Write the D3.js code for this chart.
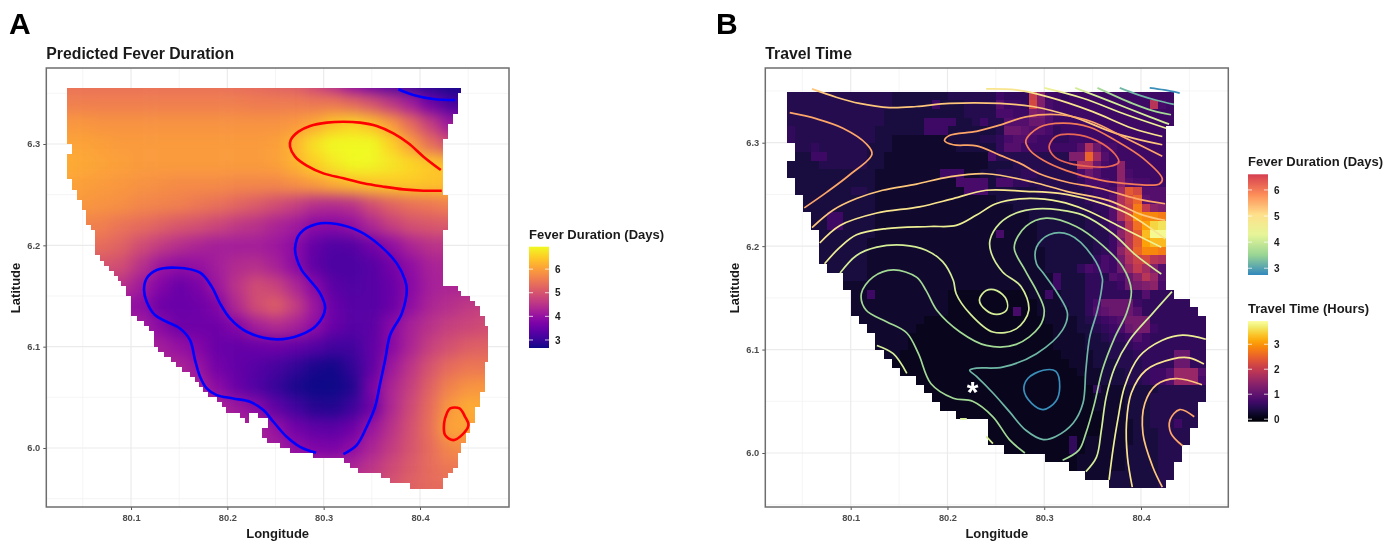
<!DOCTYPE html>
<html>
<head>
<meta charset="utf-8">
<style>
  html, body { margin: 0; padding: 0; background: #fff; }
  svg { display: block; filter: blur(0.45px); }
  text { font-family: "Liberation Sans", Arial, sans-serif; }
  .tick text { font-weight: bold; }
</style>
</head>
<body>
<div id="chart"></div>
<script src="https://d3js.org/d3.v7.min.js"></script>
<script>
// ---------- panel A: fever raster, estimated on a 0.02 degree lattice ----------
var feverLons = [80.03,80.05,80.07,80.09,80.11,80.13,80.15,80.17,80.19,80.21,80.23,80.25,80.27,80.29,80.31,80.33,80.35,80.37,80.39,80.41,80.43,80.45,80.47];
var feverLats = [6.36,6.34,6.32,6.30,6.28,6.26,6.24,6.22,6.20,6.18,6.16,6.14,6.12,6.10,6.08,6.06,6.04,6.02,6.00,5.98,5.96];
var feverDays = [
  [5.4,5.4,5.4,5.4,5.4,5.4,5.4,5.4,5.4,5.35,5.3,5.2,5.1,4.8,4.4,3.9,3.5,3.2,3.0,2.8,2.7,2.7,2.7],
  [5.6,5.6,5.6,5.6,5.6,5.6,5.6,5.6,5.6,5.6,5.55,5.55,5.55,5.5,5.5,5.3,5.0,4.6,4.2,3.6,3.2,3.0,3.0],
  [5.9,5.9,5.85,5.85,5.85,5.85,5.85,5.85,5.85,5.85,5.85,5.85,5.9,6.1,6.4,6.55,6.35,5.95,5.35,4.7,4.1,4,4],
  [6.05,6.05,6,5.95,5.95,5.95,5.95,5.95,5.95,5.95,5.95,6,6.25,6.7,7,7.15,6.95,6.55,6,5.4,4.9,4.9,4.9],
  [6.15,6.1,6.05,6,5.95,5.95,5.95,5.95,5.95,5.95,5.95,6,6.2,6.5,6.75,6.95,6.9,6.75,6.6,6.45,6.35,6.35,6.35],
  [6.05,6,5.95,5.9,5.85,5.8,5.75,5.75,5.75,5.7,5.7,5.7,5.8,5.95,6.15,6.3,6.4,6.45,6.45,6.4,6.35,6.35,6.35],
  [5.9,5.9,5.85,5.8,5.7,5.65,5.6,5.5,5.4,5.25,5.1,4.9,4.7,4.45,4.4,4.5,4.9,5.2,5.4,5.5,5.6,5.6,5.6],
  [5.7,5.65,5.6,5.45,5.35,5.2,5.05,4.95,4.8,4.6,4.5,4.3,4.15,3.9,3.85,4,4.35,4.7,4.95,5.05,5.1,5.1,5.1],
  [5.4,5.4,5.35,5.2,4.9,4.65,4.45,4.3,4.2,4.2,4.2,4.1,3.9,3.45,3.25,3.3,3.6,3.95,4.3,4.5,4.55,4.55,4.55],
  [5,5,5,4.9,4.5,4.1,3.95,4,4.2,4.4,4.45,4.25,3.9,3.4,3.2,3.2,3.3,3.6,3.95,4.25,4.3,4.3,4.3],
  [4.5,4.5,4.5,4.5,4.15,3.8,3.5,3.7,4.1,4.55,4.9,4.75,4.35,3.85,3.35,3.25,3.3,3.5,3.85,4.2,4.3,4.3,4.3],
  [4,4,4,4,3.95,3.55,3.5,3.55,3.75,4.4,4.9,5.15,4.7,4.1,3.5,3.3,3.3,3.5,3.95,4.3,4.45,4.6,4.7],
  [4.2,4.2,4.2,4.2,4.2,3.9,3.55,3.55,3.55,3.8,4.2,4.4,4.25,3.95,3.5,3.3,3.35,3.85,4.25,4.5,4.7,4.8,4.9],
  [4.2,4.2,4.2,4.2,4.2,4.2,4,3.8,3.5,3.45,3.5,3.55,3.45,3.3,3.1,3.1,3.4,3.85,4.3,4.7,4.95,5.15,5.2],
  [4.3,4.3,4.3,4.3,4.3,4.3,4.3,4.05,3.6,3.45,3.3,3.15,2.95,2.75,2.7,2.95,3.4,4.1,4.55,5,5.35,5.5,5.5],
  [4.3,4.3,4.3,4.3,4.3,4.3,4.3,4.3,3.9,3.5,3.25,3,2.75,2.55,2.5,2.8,3.7,4.3,4.7,5.2,5.65,5.85,5.9],
  [4.3,4.3,4.3,4.3,4.3,4.3,4.3,4.3,4.3,4.1,3.9,3.4,3.1,2.85,2.8,3.05,3.55,4.35,4.85,5.35,5.9,6.15,6.1],
  [4.3,4.3,4.3,4.3,4.3,4.3,4.3,4.3,4.3,4.3,4.3,4,3.6,3.4,3.35,3.55,4.05,4.5,4.95,5.4,6.05,6.05,6],
  [4.2,4.2,4.2,4.2,4.2,4.2,4.2,4.2,4.2,4.2,4.2,4.2,3.95,3.75,3.7,3.95,4.3,4.65,5,5.35,5.7,5.8,5.8],
  [4.3,4.3,4.3,4.3,4.3,4.3,4.3,4.3,4.3,4.3,4.3,4.3,4.3,4.3,4.3,4.3,4.55,4.85,5.1,5.35,5.5,5.5,5.5],
  [4.8,4.8,4.8,4.8,4.8,4.8,4.8,4.8,4.8,4.8,4.8,4.8,4.8,4.8,4.8,4.8,4.8,5,5.2,5.3,5.35,5.35,5.35]
];

// land mask of panel A: one row every 0.005 degree from 6.355 down
var maskATop = 6.355, maskAStep = 0.005;
var maskALeft = [
  80.034,80.034,80.034,80.034,80.034,80.034,80.034,80.034,80.034,80.034,80.034,80.039,80.039,80.034,80.034,80.034,80.034,80.034,
  80.039,80.039,80.044,80.044,80.049,80.049,80.053,80.053,80.053,80.058,80.063,80.063,80.063,80.063,80.063,80.068,80.072,80.077,
  80.082,80.086,80.090,80.095,80.095,80.100,80.100,80.100,80.100,80.106,80.113,80.119,80.124,80.124,80.124,80.128,80.134,80.142,
  80.147,80.153,80.161,80.166,80.171,80.175,80.180,80.189,80.194,80.199,80.232,80.242,80.242,80.236,80.236,80.241,80.255,80.265,
  80.289,80.321,80.327,80.336,80.359,80.369,80.390
];
var maskARight = [
  80.443,80.439,80.439,80.439,80.439,80.434,80.434,80.429,80.429,80.429,80.424,80.424,80.424,80.424,80.424,80.424,80.424,80.424,
  80.424,80.424,80.424,80.429,80.429,80.429,80.429,80.429,80.429,80.429,80.424,80.424,80.424,80.424,80.424,80.424,80.424,80.424,
  80.424,80.424,80.424,80.439,80.443,80.452,80.457,80.462,80.462,80.467,80.467,80.471,80.471,80.471,80.471,80.471,80.471,80.471,
  80.467,80.467,80.467,80.467,80.467,80.467,80.462,80.462,80.462,80.457,80.457,80.457,80.452,80.452,80.448,80.448,80.443,80.443,
  80.439,80.439,80.439,80.434,80.429,80.424,80.424
];
// small bits of land split off by the lagoon: [row, lonLeft, lonRight]
var maskAIslets = [[64,80.213,80.222],[65,80.218,80.2225]];

var contourRedTop = [[80.4216,6.2743],[80.4036,6.2875],[80.388,6.3007],[80.3724,6.3105],[80.3551,6.3178],[80.3378,6.3211],[80.3205,6.322],[80.3032,6.3211],[80.2859,6.3178],[80.2738,6.3122],[80.2658,6.3039],[80.2651,6.2974],[80.2703,6.2875],[80.2824,6.2786],[80.2997,6.271],[80.3205,6.2661],[80.3413,6.2612],[80.362,6.2579],[80.3828,6.2552],[80.4036,6.2539],[80.4226,6.2539]];
var contourRedSmall = [[80.4313,6.0391],[80.441,6.0391],[80.4468,6.0308],[80.4503,6.0226],[80.4434,6.0127],[80.4347,6.0078],[80.4261,6.0127],[80.425,6.0243],[80.4278,6.0341]];
var contourBlueTop = [[80.3776,6.354],[80.3932,6.3484],[80.414,6.3444],[80.4365,6.3434]];
var contourBlueMain = [[80.2921,5.9953],[80.2755,6.0012],[80.2616,6.0111],[80.2478,6.0259],[80.2374,6.0374],[80.2236,6.0456],[80.2063,6.0489],[80.189,6.0522],[80.1786,6.0588],[80.1717,6.0703],[80.1665,6.0868],[80.1613,6.1065],[80.1509,6.118],[80.137,6.1246],[80.1249,6.1312],[80.1163,6.1444],[80.1135,6.1559],[80.1163,6.1674],[80.1267,6.1756],[80.1474,6.1779],[80.1717,6.173],[80.1838,6.1592],[80.1924,6.1427],[80.2028,6.1279],[80.2201,6.1147],[80.2513,6.1072],[80.2755,6.1115],[80.2928,6.1213],[80.3015,6.1378],[80.2963,6.1526],[80.2841,6.1674],[80.2772,6.1756],[80.272,6.1871],[80.2703,6.197],[80.2755,6.2118],[80.2928,6.221],[80.3136,6.221],[80.3378,6.2135],[80.3586,6.1997],[80.3759,6.1822],[80.3845,6.1657],[80.3863,6.1559],[80.3811,6.1328],[80.369,6.1115],[80.3638,6.0868],[80.3586,6.0637],[80.3534,6.0407],[80.3447,6.021],[80.3343,6.0029],[80.3205,5.994]];

// ---------- panel B: travel time raster, one char per 30 arc second cell (base 36, x 0.11 h) ----------
var travelLeftLon = 80.0339, travelTopLat = 6.3493, travelStep = 1 / 120;
var travelCells = [
  "4444444444 4443333333 4444446555 jc66566666 6666666666 66",
  "4444444444 4443333363 3344448665 kc76666666 66666h7666 66",
  "4444444444 4433333333 3344447766 cb86666666 6666666666 66",
  "4444444444 4433333666 6334644888 aa86666666 6666666666 66",
  "5444444444 4333333666 3333334aa9 8875666666 6666666666 66",
  "5444444444 4332222222 3333445788 7665566666 6666666666 66",
  "4445444444 3332222222 2333335886 6666668ga7 7666666666 66",
  "3336644444 3322222222 2222274444 44444ccnf8 6666666666 66",
  "3333444444 3322222222 2222233344 444444hha7 6d66666666 66",
  "3333333333 3222222226 6622334445 5444447a86 6d76666666 66",
  "3333333333 3222222222 2777737755 4444445777 6d87766666 66",
  "3333333344 3222222222 2277733333 3444444566 7fmk888666 66",
  "3333333333 3222222222 2222223333 3333444556 8gkn988666 66",
  "3333333333 3222222222 2222222233 3333334455 8gjpidc666 66",
  "3333366333 3222222222 2222222222 3333333445 8gkrqqp666 66",
  "3333366333 3222222222 2222222222 2333333445 7aioswx666 66",
  "3333333333 3222222222 2222227222 2333333344 6dhmuzz666 66",
  "3333333333 2222222222 2222222222 2333333344 6bhmsuu666 66",
  "3333333333 2222222222 2222222222 2233333345 6dhnqqp666 66",
  "3333333333 2222222222 2222222222 2233333357 6bgjkhg666 66",
  "3333333333 2222222222 2222222222 2233335767 6aeifc8666 66",
  "3333333333 2222222222 2222222222 2226333554 87adhe8666 66",
  "2222222222 2222222222 2222222222 2226333555 56abcd7666 66",
  "2222222222 6222222222 1111111111 2262333555 5555855555 55",
  "2222222222 2222222222 1111111111 122233357a aaa6555555 55",
  "2222222222 2222222222 1111111171 1222233589 aaa8555555 55",
  "2222222222 2222222111 1111111111 1122223456 78bbb55555 55",
  "2222222222 2222221111 1111111111 1112223345 67abb65555 55",
  "2222222222 2222211111 1111111111 1112222334 5568655555 55",
  "2222222222 2222211111 1111111111 1112222333 4456655555 55",
  "2222222222 2222111111 1111111111 1111222233 44455555aa 55",
  "1111111111 1111111111 1111111111 1111122233 34445555aa 55",
  "1111111111 1111111111 1111111111 1111112223 3344566 8ee e8",
  "1111111111 1111111111 1111111111 1111111223 3344566 8ee e7",
  "1111111111 1111111111 1111111111 1111111152 2233334444 44",
  "1111111111 1111111111 1111111111 1111111122 2233344444 44",
  "1111111111 1111111111 1111111111 1111111122 2233344444 44",
  "1111111111 1111111111 1111111111 1111111112 2233344444 44",
  "1111111111 1111111111 1111111111 1111111112 2223344464 44",
  "1111111111 1111111111 1111111111 1111111112 2223334444 44",
  "1111111111 1111111111 1111111111 1111151222 2223334444 44",
  "1111111111 1111111111 1111111111 1111151222 2233334444 44",
  "1111111111 1111111111 1111111111 1111112222 2233334444 44",
  "1111111111 1111111111 1111111111 1111112222 2233334444 44",
  "1111111111 1111111111 1111111111 1111122222 3333334444 44",
  "1111111111 1111111111 1111111111 1111122222 3333334444 44"
];
var travelLeft = [80.0339,80.0339,80.0339,80.0339,80.0339,80.0339,80.0425,80.0425,80.0339,80.0339,80.0425,80.0425,80.0511,80.0511,80.0597,80.0597,80.0676,80.0676,80.0676,80.0676,80.0759,80.0924,80.0924,80.101,80.101,80.101,80.1096,80.1172,80.1258,80.1258,80.1337,80.1424,80.151,80.1675,80.1758,80.1844,80.1923,80.2095,80.2422,80.2422,80.2422,80.2594,80.3008,80.3266,80.3431,80.3679];
var travelRight = [80.4344,80.4344,80.4344,80.4344,80.4261,80.4261,80.4261,80.4261,80.4261,80.4261,80.4261,80.4261,80.4261,80.4261,80.4261,80.4261,80.4261,80.4261,80.4261,80.4261,80.4261,80.4261,80.4261,80.434,80.4506,80.4592,80.4674,80.4674,80.4674,80.4674,80.4674,80.4674,80.4674,80.4674,80.4674,80.4674,80.4592,80.4592,80.4592,80.4506,80.4506,80.4423,80.4423,80.434,80.434,80.4258];

// contour lines of panel B, each with the fever level that colours it
var lineA = [[80.409,6.353],[80.424,6.351],[80.440,6.348]];
var lineB = [[80.378,6.353],[80.398,6.346],[80.416,6.341],[80.434,6.337]];
var lineC = [[80.355,6.353],[80.391,6.338],[80.412,6.331],[80.431,6.327]];
var lineD = [[80.332,6.353],[80.371,6.339],[80.409,6.325],[80.429,6.318]];
var lineE = [[80.300,6.353],[80.340,6.343],[80.385,6.327],[80.426,6.314]];
var lineF = [[80.240,6.352],[80.271,6.351],[80.305,6.344],[80.350,6.330],[80.391,6.314],[80.422,6.306]];
var lineG = [[80.060,6.352],[80.085,6.344],[80.109,6.338],[80.140,6.334],[80.168,6.335],[80.202,6.338],[80.254,6.338],[80.288,6.335],[80.330,6.325],[80.374,6.309],[80.422,6.298]];
var lineTip = [[80.422,6.287],[80.385,6.304],[80.350,6.320],[80.316,6.327],[80.281,6.325],[80.254,6.317],[80.230,6.311],[80.202,6.307],[80.197,6.302],[80.206,6.298],[80.230,6.297],[80.254,6.288],[80.275,6.280],[80.295,6.270],[80.323,6.262],[80.357,6.256],[80.395,6.246],[80.425,6.241]];
var lineLoop = [[80.281,6.302],[80.295,6.315],[80.319,6.319],[80.347,6.315],[80.374,6.302],[80.402,6.285],[80.422,6.265],[80.419,6.260],[80.391,6.260],[80.357,6.264],[80.323,6.273],[80.299,6.283],[80.285,6.293]];
var lineInner = [[80.305,6.296],[80.312,6.306],[80.331,6.308],[80.354,6.302],[80.373,6.289],[80.377,6.281],[80.367,6.277],[80.347,6.277],[80.326,6.280],[80.311,6.286]];
var lineWest = [[80.052,6.237],[80.075,6.252],[80.099,6.269],[80.122,6.289],[80.116,6.299],[80.092,6.314],[80.065,6.323],[80.037,6.329]];
var lineM2 = [[80.060,6.218],[80.082,6.235],[80.106,6.246],[80.133,6.254],[80.168,6.260],[80.202,6.267],[80.240,6.270],[80.288,6.262],[80.323,6.253],[80.367,6.244],[80.402,6.230],[80.425,6.225]];
var lineM3 = [[80.068,6.203],[80.089,6.220],[80.127,6.232],[80.171,6.238],[80.206,6.246],[80.240,6.254],[80.281,6.253],[80.316,6.251],[80.350,6.244],[80.385,6.232],[80.425,6.207]];
var lineM4 = [[80.073,6.183],[80.089,6.199],[80.106,6.211],[80.137,6.217],[80.182,6.219],[80.209,6.220],[80.230,6.230],[80.250,6.241],[80.281,6.246],[80.316,6.243],[80.343,6.235],[80.378,6.219],[80.421,6.199]];
var lineM5 = [[80.089,6.174],[80.106,6.191],[80.127,6.199],[80.154,6.201],[80.178,6.196],[80.195,6.185],[80.206,6.167],[80.209,6.154],[80.223,6.135],[80.247,6.117],[80.271,6.120],[80.284,6.138],[80.276,6.161],[80.257,6.175],[80.245,6.194],[80.244,6.206],[80.254,6.222],[80.271,6.232],[80.292,6.236],[80.316,6.235],[80.340,6.230],[80.371,6.212],[80.395,6.191],[80.421,6.173]];
var lineM6 = [[80.280,6.000],[80.264,6.013],[80.247,6.035],[80.226,6.050],[80.206,6.053],[80.183,6.067],[80.170,6.096],[80.158,6.116],[80.137,6.127],[80.116,6.138],[80.111,6.154],[80.123,6.170],[80.144,6.177],[80.168,6.170],[80.178,6.157],[80.189,6.138],[80.213,6.117],[80.240,6.104],[80.271,6.105],[80.295,6.122],[80.300,6.138],[80.292,6.157],[80.280,6.177],[80.269,6.199],[80.281,6.219],[80.302,6.227],[80.333,6.219],[80.360,6.201],[80.381,6.180],[80.390,6.157],[80.385,6.135],[80.373,6.112],[80.360,6.080],[80.352,6.048],[80.343,6.019],[80.336,6.003],[80.319,5.993]];
var lineM7 = [[80.223,6.080],[80.230,6.082],[80.257,6.083],[80.292,6.096],[80.319,6.119],[80.324,6.135],[80.314,6.154],[80.299,6.174],[80.292,6.183],[80.292,6.199],[80.305,6.211],[80.326,6.211],[80.350,6.190],[80.360,6.169],[80.360,6.164],[80.355,6.138],[80.347,6.112],[80.343,6.080],[80.340,6.048],[80.330,6.029],[80.312,6.016],[80.299,6.013],[80.281,6.022],[80.264,6.040],[80.247,6.058],[80.230,6.074]];
var lineM8 = [[80.299,6.080],[80.312,6.079],[80.316,6.064],[80.312,6.050],[80.299,6.042],[80.287,6.048],[80.279,6.061],[80.283,6.072]];
var lineM9 = [[80.233,6.148],[80.240,6.157],[80.251,6.157],[80.261,6.148],[80.261,6.138],[80.251,6.134],[80.240,6.138]];
var lineN2 = [[80.343,5.982],[80.354,5.996],[80.359,6.022],[80.364,6.054],[80.373,6.083],[80.388,6.109],[80.412,6.135],[80.432,6.156]];
var lineN3 = [[80.367,5.974],[80.371,6.003],[80.376,6.032],[80.383,6.064],[80.398,6.093],[80.422,6.109],[80.443,6.114],[80.467,6.110]];
var lineN4 = [[80.391,5.967],[80.386,5.996],[80.385,6.029],[80.390,6.058],[80.405,6.080],[80.433,6.091],[80.450,6.092],[80.465,6.086]];
var lineN5 = [[80.422,5.967],[80.412,5.987],[80.402,6.019],[80.404,6.048],[80.416,6.066],[80.436,6.072],[80.463,6.066]];
var lineN6 = [[80.443,6.007],[80.431,6.019],[80.430,6.032],[80.440,6.042],[80.455,6.035]];
var lineCoast1 = [[80.127,6.104],[80.144,6.096],[80.158,6.077]];
var lineCoast2 = [[80.213,6.033],[80.220,6.033]];
var lineCoast3 = [[80.240,6.016],[80.247,6.009]];

var openLines = [
  [lineA,2.8],[lineB,3.2],[lineC,3.6],[lineD,4.1],[lineE,4.5],[lineF,4.9],[lineG,5.3],[lineTip,5.6],[lineWest,5.6],
  [lineM2,5.3],[lineM3,4.9],[lineM4,4.5],[lineM5,4.1],[lineM6,3.6],
  [lineN2,4.1],[lineN3,4.5],[lineN4,4.9],[lineN5,5.3],[lineN6,5.6],
  [lineCoast1,4.1],[lineCoast2,4.1],[lineCoast3,4.1]
];
var closedLines = [[lineLoop,6.0],[lineInner,6.2],[lineM7,3.2],[lineM8,2.8],[lineM9,4.1]];

var gridLons = [80.05,80.15,80.25,80.35,80.45];
var gridLats = [5.95,6.05,6.15,6.25,6.35];
var lonTicks = [80.1,80.2,80.3,80.4];
var latTicks = [6.0,6.1,6.2,6.3];

var spectralStops = ["#3288bd","#99d594","#e6f598","#fee08b","#fc8d59","#d53e4f"];
var feverLegendTicks = [3,4,5,6];
var travelLegendTicks = [0,1,2,3];

// ---------- scales ----------
var width = 1399, height = 542;
var svg = d3.select("#chart").append("svg").attr("width", width).attr("height", height);
var defs = svg.append("defs");

var plasma = d3.scaleSequential(d3.interpolatePlasma).domain([2.66, 6.95]);
var inferno = d3.scaleSequential(d3.interpolateInferno).domain([-0.1, 3.93]);
var spectral = d3.scaleLinear()
  .domain(d3.range(spectralStops.length).map(function(i) { return 2.74 + i * (6.6 - 2.74) / 5; }))
  .range(spectralStops);

var xA = d3.scaleLinear().domain([80.1, 80.4]).range([131, 420]);
var yA = d3.scaleLinear().domain([6.0, 6.3]).range([448, 144]);
var xB = d3.scaleLinear().domain([80.1, 80.4]).range([850.7, 1141]);
var yB = d3.scaleLinear().domain([6.0, 6.3]).range([453, 142.7]);

var frameA = {left: 46.3, right: 509, top: 68, bottom: 507};
var frameB = {left: 765.3, right: 1228.3, top: 68, bottom: 507};

function drawFrame(frame, x, y, title, letter, letterX) {
  var g = svg.append("g");
  g.append("rect").attr("x", frame.left).attr("y", frame.top)
    .attr("width", frame.right - frame.left).attr("height", frame.bottom - frame.top)
    .attr("fill", "#fff");

  g.selectAll(".minorx").data(gridLons).enter().append("line")
    .attr("x1", x).attr("x2", x).attr("y1", frame.top).attr("y2", frame.bottom)
    .attr("stroke", "#f3f3f3").attr("stroke-width", 0.8);
  g.selectAll(".minory").data(gridLats).enter().append("line")
    .attr("y1", y).attr("y2", y).attr("x1", frame.left).attr("x2", frame.right)
    .attr("stroke", "#f3f3f3").attr("stroke-width", 0.8);
  g.selectAll(".majorx").data(lonTicks).enter().append("line")
    .attr("x1", x).attr("x2", x).attr("y1", frame.top).attr("y2", frame.bottom)
    .attr("stroke", "#ebebeb").attr("stroke-width", 1.2);
  g.selectAll(".majory").data(latTicks).enter().append("line")
    .attr("y1", y).attr("y2", y).attr("x1", frame.left).attr("x2", frame.right)
    .attr("stroke", "#ebebeb").attr("stroke-width", 1.2);

  svg.append("text").attr("x", frame.left).attr("y", 59)
    .attr("font-size", 15.8).attr("font-weight", "bold").attr("fill", "#1a1a1a").text(title);
  svg.append("text").attr("x", letterX).attr("y", 34)
    .attr("font-size", 30).attr("font-weight", "bold").attr("fill", "#000").text(letter);
  svg.append("text").attr("x", (frame.left + frame.right) / 2).attr("y", 538)
    .attr("text-anchor", "middle").attr("font-size", 13).attr("font-weight", "bold")
    .attr("fill", "#1a1a1a").text("Longitude");
  svg.append("text").attr("transform", "translate(" + (frame.left - 26) + ",288) rotate(-90)")
    .attr("text-anchor", "middle").attr("font-size", 13).attr("font-weight", "bold")
    .attr("fill", "#1a1a1a").text("Latitude");
}

function drawAxes(frame, x, y) {
  var ax = svg.append("g").attr("transform", "translate(0," + frame.bottom + ")")
    .call(d3.axisBottom(x).tickValues(lonTicks).tickFormat(d3.format(".1f")).tickSize(3).tickPadding(4));
  var ay = svg.append("g").attr("transform", "translate(" + frame.left + ",0)")
    .call(d3.axisLeft(y).tickValues(latTicks).tickFormat(d3.format(".1f")).tickSize(3).tickPadding(3));
  [ax, ay].forEach(function(a) {
    a.select(".domain").remove();
    a.selectAll("line").attr("stroke", "#555");
    a.selectAll("text").attr("font-size", 9.3).attr("fill", "#4d4d4d")
      .style("font-family", "'Liberation Sans', Arial, sans-serif");
  });
  svg.append("rect").attr("x", frame.left).attr("y", frame.top)
    .attr("width", frame.right - frame.left).attr("height", frame.bottom - frame.top)
    .attr("fill", "none").attr("stroke", "#6e6e6e").attr("stroke-width", 1.5);
}

function drawLegend(lx, ty, by, scale, lo, hi, ticks, title, titleY) {
  var id = "grad" + Math.round(ty);
  var grad = defs.append("linearGradient").attr("id", id)
    .attr("x1", 0).attr("x2", 0).attr("y1", 1).attr("y2", 0);
  d3.range(0, 1.001, 0.05).forEach(function(t) {
    grad.append("stop").attr("offset", t).attr("stop-color", scale(lo + t * (hi - lo)));
  });
  var ly = d3.scaleLinear().domain([lo, hi]).range([by, ty]);
  svg.append("rect").attr("x", lx).attr("y", ty).attr("width", 20).attr("height", by - ty)
    .attr("fill", "url(#" + id + ")");
  svg.selectAll(".lt" + id).data(ticks).enter().append("path")
    .attr("d", function(d) {
      return "M" + lx + "," + ly(d) + "h4M" + (lx + 16) + "," + ly(d) + "h4";
    })
    .attr("stroke", "#fff").attr("stroke-opacity", 0.75).attr("fill", "none");
  svg.selectAll(".ll" + id).data(ticks).enter().append("text")
    .attr("x", lx + 26).attr("y", function(d) { return ly(d) + 3.6; })
    .attr("font-size", 10).attr("font-weight", "bold").attr("fill", "#1a1a1a").text(function(d) { return d; });
  svg.append("text").attr("x", lx).attr("y", titleY)
    .attr("font-size", 13).attr("font-weight", "bold").attr("fill", "#1a1a1a").text(title);
}

// ---------- panel A ----------
drawFrame(frameA, xA, yA, "Predicted Fever Duration", "A", 9);

// rows snap to whole pixels, otherwise the clip shows hairlines between them
function clipRow(clip, top, left, right) {
  var y0 = Math.round(yA(top)), y1 = Math.round(yA(top - maskAStep));
  clip.append("rect").attr("x", Math.round(xA(left))).attr("y", y0)
    .attr("width", Math.round(xA(right)) - Math.round(xA(left))).attr("height", y1 - y0);
}
var clipA = defs.append("clipPath").attr("id", "maskA");
maskALeft.forEach(function(left, i) {
  clipRow(clipA, maskATop - i * maskAStep, left, maskARight[i]);
});
maskAIslets.forEach(function(d) {
  clipRow(clipA, maskATop - d[0] * maskAStep, d[1], d[2]);
});

defs.append("filter").attr("id", "smooth").attr("filterUnits", "userSpaceOnUse")
  .attr("x", 0).attr("y", 0).attr("width", 700).attr("height", 542)
  .attr("color-interpolation-filters", "sRGB")
  .append("feGaussianBlur").attr("stdDeviation", 7);

var rasterA = svg.append("g").attr("clip-path", "url(#maskA)").append("g").attr("filter", "url(#smooth)");
feverDays.forEach(function(row, r) {
  var lat = feverLats[r];
  row.forEach(function(v, c) {
    var lon = feverLons[c];
    // the outer lattice cells run on so the blur has no pale rim
    var x0 = xA(lon - 0.01) - (c === 0 ? 40 : 0), x1 = xA(lon + 0.01) + (c === row.length - 1 ? 40 : 0);
    var y0 = yA(lat + 0.01) - (r === 0 ? 40 : 0), y1 = yA(lat - 0.01) + (r === feverDays.length - 1 ? 40 : 0);
    rasterA.append("rect").attr("x", x0).attr("y", y0)
      .attr("width", x1 - x0 + 0.5).attr("height", y1 - y0 + 0.5).attr("fill", plasma(v));
  });
});

var lineAPath = d3.line().x(function(d) { return xA(d[0]); }).y(function(d) { return yA(d[1]); })
  .curve(d3.curveCatmullRom.alpha(0.5));
var closedAPath = d3.line().x(function(d) { return xA(d[0]); }).y(function(d) { return yA(d[1]); })
  .curve(d3.curveCatmullRomClosed.alpha(0.5));
[[contourRedTop, "#f00", lineAPath], [contourRedSmall, "#f00", closedAPath],
 [contourBlueTop, "#00f", lineAPath], [contourBlueMain, "#00f", lineAPath]].forEach(function(d) {
  svg.append("path").attr("d", d[2](d[0])).attr("fill", "none")
    .attr("stroke", d[1]).attr("stroke-width", 2.6).attr("stroke-linejoin", "round");
});
drawAxes(frameA, xA, yA);
drawLegend(529, 246.7, 348, plasma, 2.66, 6.95, feverLegendTicks, "Fever Duration (Days)", 239);

// ---------- panel B ----------
drawFrame(frameB, xB, yB, "Travel Time", "B", 716);

var rasterB = svg.append("g").attr("shape-rendering", "crispEdges");
travelCells.forEach(function(row, r) {
  var chars = row.replace(/ /g, "");
  var top = travelTopLat - r * travelStep;
  var left = travelLeft[r], right = travelRight[r];
  d3.range(chars.length).forEach(function(c) {
    var lon = travelLeftLon + c * travelStep;
    if (lon + travelStep / 2 < left || lon + travelStep / 2 > right) return;
    var x0 = Math.round(xB(lon)), x1 = Math.round(xB(lon + travelStep));
    var y0 = Math.round(yB(top)), y1 = Math.round(yB(top - travelStep));
    rasterB.append("rect")
      .attr("x", x0).attr("y", y0).attr("width", x1 - x0).attr("height", y1 - y0)
      .attr("fill", inferno(parseInt(chars.charAt(c), 36) * 0.11));
  });
});

var lineBPath = d3.line().x(function(d) { return xB(d[0]); }).y(function(d) { return yB(d[1]); })
  .curve(d3.curveCatmullRom.alpha(0.5));
var closedBPath = d3.line().x(function(d) { return xB(d[0]); }).y(function(d) { return yB(d[1]); })
  .curve(d3.curveCatmullRomClosed.alpha(0.5));
openLines.forEach(function(d) {
  svg.append("path").attr("d", lineBPath(d[0])).attr("fill", "none")
    .attr("stroke", spectral(d[1])).attr("stroke-width", 1.7);
});
closedLines.forEach(function(d) {
  svg.append("path").attr("d", closedBPath(d[0])).attr("fill", "none")
    .attr("stroke", spectral(d[1])).attr("stroke-width", 1.7);
});

// the asterisk marks the study site
svg.append("text").attr("x", xB(80.226)).attr("y", yB(6.064) + 15)
  .attr("text-anchor", "middle").attr("font-size", 30).attr("font-weight", "bold")
  .attr("fill", "#fff").text("*");

drawAxes(frameB, xB, yB);
drawLegend(1248, 174.3, 275, spectral, 2.74, 6.6, feverLegendTicks, "Fever Duration (Days)", 166);
drawLegend(1248, 321, 421.7, inferno, -0.1, 3.93, travelLegendTicks, "Travel Time (Hours)", 313);
</script>
</body>
</html>
